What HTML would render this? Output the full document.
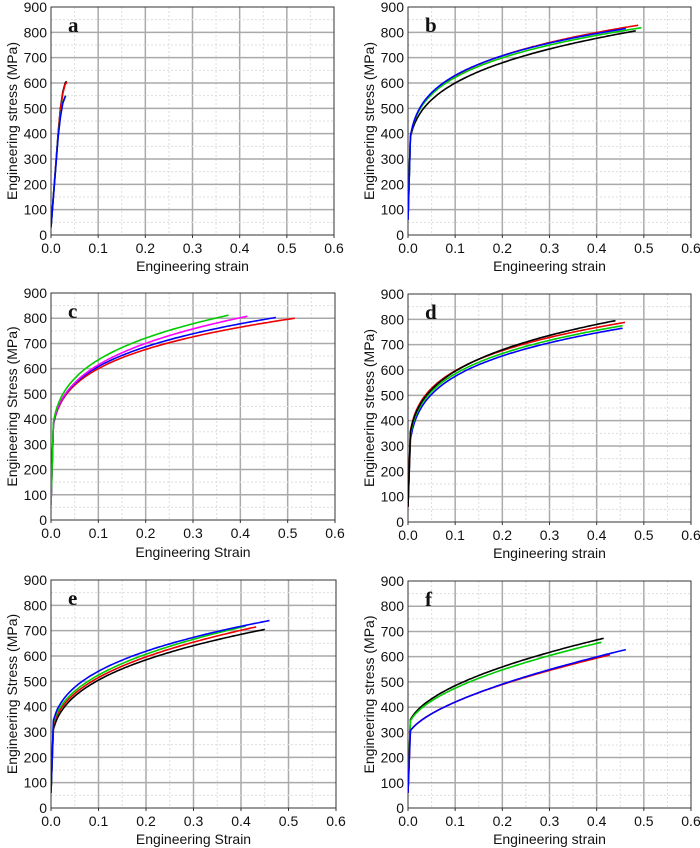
<!DOCTYPE html><html><head><meta charset="utf-8"><style>body{margin:0;background:#fff}svg{display:block}text{font-family:"Liberation Sans",sans-serif;fill:#111}</style></head><body>
<svg id="s" width="700" height="848" xmlns="http://www.w3.org/2000/svg"></svg>
<script>
const S=document.getElementById('s');let h='';
const panels=[
{L:'a',x0:51,x1:334,y0:7,y1:235,yl:'Engineering stress (MPa)',xl:'Engineering strain',ylx:12,xly:266,raw:[
['#000',[[0,30],[0.015,400],[0.02,500],[0.025,565],[0.03,600],[0.033,607]]],
['#e00',[[0,30],[0.015,395],[0.02,495],[0.025,558],[0.03,595],[0.034,603]]],
['#0c0',[[0,30],[0.015,390],[0.02,470],[0.025,525],[0.03,548],[0.032,550]]],
['#00f',[[0,30],[0.015,385],[0.02,465],[0.025,520],[0.03,545],[0.031,548]]]]},
{L:'b',x0:408,x1:691,y0:7,y1:235,yl:'Engineering stress (MPa)',xl:'Engineering strain',ylx:369,xly:266,c:[
['#000',420,600,0.483,806],['#e00',430,628,0.488,828],['#0c0',430,622,0.495,818],['#00f',432,630,0.462,815]]},
{L:'c',x0:51,x1:335,y0:293,y1:520,yl:'Engineering Stress (MPa)',xl:'Engineering Strain',ylx:12,xly:552,c:[
['#e00',415,600,0.515,800],['#00f',418,608,0.475,803],['#f0f',420,615,0.415,808],['#0c0',430,635,0.375,812]]},
{L:'d',x0:408,x1:691,y0:294,y1:522,yl:'Engineering stress (MPa)',xl:'Engineering strain',ylx:369,xly:553,c:[
['#00f',370,575,0.455,765],['#0c0',385,585,0.455,775],['#e00',400,597,0.46,788],['#000',395,595,0.44,795]]},
{L:'e',x0:51,x1:336,y0:580,y1:808,yl:'Engineering Stress (MPa)',xl:'Engineering Strain',ylx:12,xly:839,c:[
['#000',340,505,0.45,705],['#e00',355,515,0.432,715],['#0c0',365,525,0.41,718],['#00f',375,540,0.46,740]]},
{L:'f',x0:408,x1:691,y0:581,y1:808,yl:'Engineering stress (MPa)',xl:'Engineering strain',ylx:369,xly:839,c:[
['#000',365,485,0.415,673],['#0c0',360,475,0.41,657],['#e00',318,420,0.428,607],['#00f',318,420,0.462,628]]}];
function fit(s1,s2,E,Sv){const a=.01,b=.1;let lo=0.01,hi=1.5;const tgt=(Sv-s1)/(s2-s1);
for(let i=0;i<60;i++){const n=(lo+hi)/2;const r=(Math.pow(E,n)-Math.pow(a,n))/(Math.pow(b,n)-Math.pow(a,n));if(r>tgt)hi=n;else lo=n;}
const n=(lo+hi)/2,K=(s2-s1)/(Math.pow(b,n)-Math.pow(a,n)),s0=s1-K*Math.pow(a,n);return e=>s0+K*Math.pow(e,n);}
let k=0;
for(const p of panels){k++;const X=e=>p.x0+(p.x1-p.x0)*e/0.6,Y=s=>p.y1-(p.y1-p.y0)*s/900;
h+=`<clipPath id="c${k}"><rect x="${p.x0}" y="${p.y0}" width="${p.x1-p.x0}" height="${p.y1-p.y0}"/></clipPath>`;
for(let i=1;i<12;i++){const x=X(i*0.05);h+=`<line x1="${x}" y1="${p.y0}" x2="${x}" y2="${p.y1}" stroke="${i%2?'#ddd':'#aaa'}" stroke-width="${i%2?1:1.5}" ${i%2?'stroke-dasharray="2,2"':''}/>`;}
for(let i=1;i<18;i++){const y=Y(i*50);h+=`<line x1="${p.x0}" y1="${y}" x2="${p.x1}" y2="${y}" stroke="${i%2?'#ddd':'#aaa'}" stroke-width="${i%2?1:1.5}" ${i%2?'stroke-dasharray="2,2"':''}/>`;}
h+=`<rect x="${p.x0}" y="${p.y0}" width="${p.x1-p.x0}" height="${p.y1-p.y0}" fill="none" stroke="#333" stroke-width="1"/>`;
for(let i=0;i<=6;i++){const x=X(i*0.1);h+=`<line x1="${x}" y1="${p.y1}" x2="${x}" y2="${p.y1+3}" stroke="#333"/><text x="${x}" y="${p.y1+18}" font-size="14" text-anchor="middle">${(i/10).toFixed(1)}</text>`;}
for(let i=0;i<=9;i++){const y=Y(i*100);h+=`<text x="${p.x0-4}" y="${y+5}" font-size="14" text-anchor="end">${i*100}</text>`;}
h+=`<text x="${(p.x0+p.x1)/2}" y="${p.xly+5}" font-size="14" text-anchor="middle">${p.xl}</text>`;
const cy=(p.y0+p.y1)/2;h+=`<text transform="translate(${p.ylx+5},${cy}) rotate(-90)" font-size="14" text-anchor="middle">${p.yl}</text>`;
h+=`<text x="${p.x0+17}" y="${p.y0+25}" font-size="21" font-weight="bold" style="font-family:'Liberation Serif',serif">${p.L}</text>`;
h+=`<g clip-path="url(#c${k})">`;
if(p.raw){for(const [c,pts] of p.raw)h+=`<polyline fill="none" stroke="${c}" stroke-width="1.6" points="${pts.map(q=>X(q[0]).toFixed(1)+','+Y(q[1]).toFixed(1)).join(' ')}"/>`;}
if(p.c){for(const [c,s1,s2,E,Sv] of p.c){const f=fit(s1,s2,E,Sv);let pts=[[0,60],[0.005,f(0.005)]];for(let e=0.006;e<=E;e+=0.004)pts.push([e,f(e)]);pts.push([E,f(E)]);
h+=`<polyline fill="none" stroke="${c}" stroke-width="1.6" points="${pts.map(q=>X(q[0]).toFixed(1)+','+Y(q[1]).toFixed(1)).join(' ')}"/>`;}}
h+='</g>';}
S.innerHTML=h;
</script></body></html>
